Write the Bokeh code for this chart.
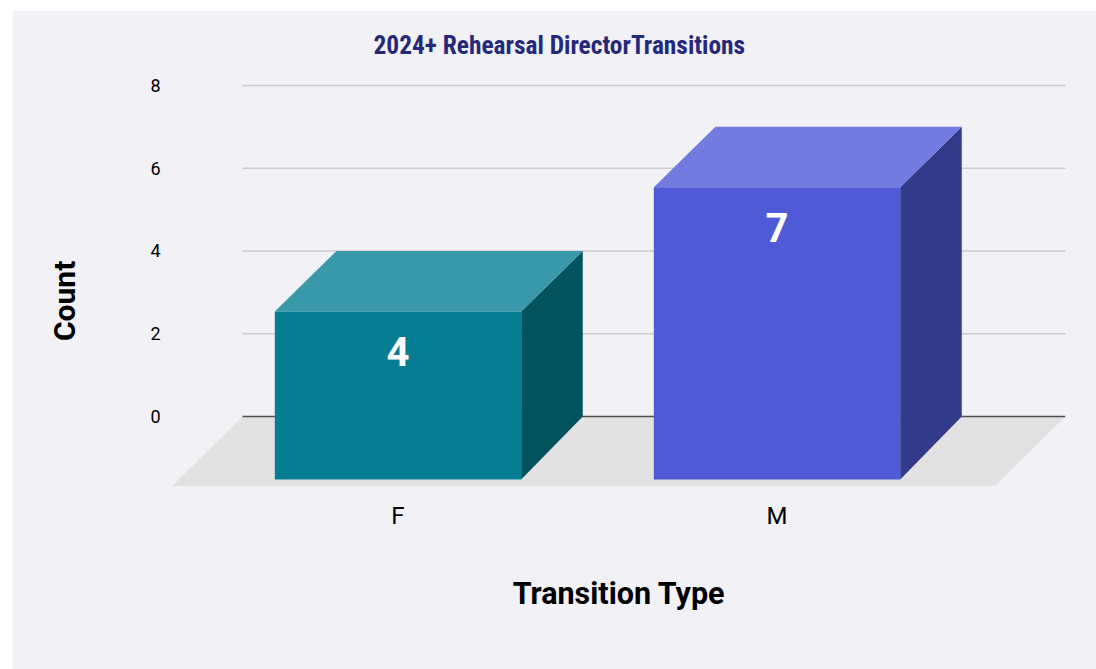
from bokeh.plotting import figure
from bokeh.models import Range1d, FixedTicker, Title
from bokeh.core.properties import value
from bokeh.embed import file_html
from bokeh.resources import INLINE

# --- data ---
categories = ["F", "M"]
counts = [4, 7]
y_ticks = [0, 2, 4, 6, 8]
chart_title = "2024+ Rehearsal DirectorTransitions"
x_title = "Transition Type"
y_title = "Count"

# --- colours ---
front_colors = ["#067d92", "#505ad6"]
side_colors = ["#03535f", "#333a8a"]
top_colors = ["#3998a9", "#727bdf"]
BG = "#f1f1f6"

# --- 3D projection, in axis units ---
BAR_W = 0.65
DEPTH_X = 0.1625
DEPTH_TOP = 1.46
BASE_Y = -1.52
FLOOR_L, FLOOR_R = -0.4103, 1.7612
FLOOR_SHIFT_X, FLOOR_BOTTOM = 0.1873, -1.692

p = figure(width=1084, height=659, output_backend="svg", toolbar_location=None,
           x_range=Range1d(-0.5950, 1.7612), y_range=Range1d(-1.692, 8.3625),
           background_fill_color=BG, border_fill_color=BG, outline_line_color=None,
           min_border_left=160, min_border_right=31, min_border_top=60, min_border_bottom=183)
p.margin = (10, 0, 0, 12)
p.grid.visible = False

# title
t = Title(text=chart_title, text_font="Roboto Condensed, Roboto", text_font_size="25.4px",
          text_font_style="bold", text_color="#26297a", align="left", offset=201, standoff=21)
p.title = t

# axes
xa, ya = p.xaxis[0], p.yaxis[0]
xa.ticker = FixedTicker(ticks=list(range(len(categories))))
xa.major_label_overrides = {i: c for i, c in enumerate(categories)}
ya.ticker = FixedTicker(ticks=y_ticks)
for a in (xa, ya):
    a.axis_line_color = None
    a.major_tick_line_color = None
    a.minor_tick_line_color = None
    a.major_label_text_font = "Roboto"
    a.major_label_text_color = "#000000"
    a.axis_label_text_font = "Roboto"
    a.axis_label_text_font_style = "bold"
    a.axis_label_text_color = "#000000"
xa.axis_label_text_font_size = "30.5px"
ya.axis_label_text_font_size = "30px"
xa.major_label_text_font_size = "24px"
ya.major_label_text_font_size = "18px"
xa.major_label_standoff = 9
ya.major_label_standoff = 6
xa.axis_label = x_title
xa.axis_label_standoff = 43
# trailing no-break spaces move the centred y title down along the axis, as in the reference
ya.axis_label = y_title + "\u00a0" * 6
ya.axis_label_standoff = 65

# floor
p.patch([FLOOR_L, FLOOR_R, FLOOR_R - FLOOR_SHIFT_X, FLOOR_L - FLOOR_SHIFT_X],
        [0, 0, FLOOR_BOTTOM, FLOOR_BOTTOM], fill_color="#e2e2e2", line_color=None)

# gridlines
grid_y = [v for v in y_ticks if v != 0]
p.segment([FLOOR_L] * len(grid_y), grid_y, [FLOOR_R] * len(grid_y), grid_y,
          line_color="#cbcbd0", line_width=1.5)
p.segment([FLOOR_L], [0], [FLOOR_R], [0], line_color="#4f4f4f", line_width=1.5)

# bars
for i, (v, cf, cs, ct) in enumerate(zip(counts, front_colors, side_colors, top_colors)):
    l, r = i - BAR_W / 2, i + BAR_W / 2
    base, top = BASE_Y, v - DEPTH_TOP
    p.patch([r, r + DEPTH_X, r + DEPTH_X, r], [base, 0, v, top], fill_color=cs, line_color=None)
    p.patch([l, r, r + DEPTH_X, l + DEPTH_X], [top, top, v, v], fill_color=ct, line_color=None)
    p.quad(left=[l], right=[r], bottom=[base], top=[top], fill_color=cf, line_color=None)

p.text(x=list(range(len(categories))), y=[v - DEPTH_TOP for v in counts], text=[str(v) for v in counts],
       text_font=value("Roboto"), text_font_style="bold", text_font_size="40px",
       text_color="#ffffff", text_align="center", text_baseline="middle", y_offset=40)

open("out.html", "w").write(file_html(p, INLINE))
